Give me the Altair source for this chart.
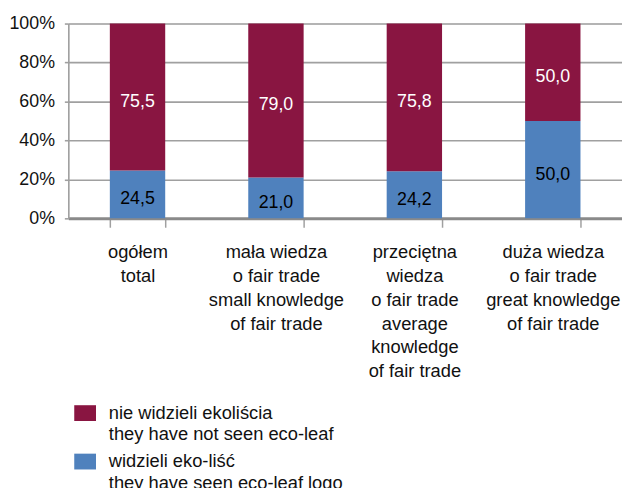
import altair as alt
import pandas as pd

categories = [
    "ogółem|total",
    "mała wiedza|o fair trade|small knowledge|of fair trade",
    "przeciętna|wiedza|o fair trade|average|knowledge|of fair trade",
    "duża wiedza|o fair trade|great knowledge|of fair trade",
]
series = [
    "nie widzieli ekoliścia|they have not seen eco-leaf",
    "widzieli eko-liść|they have seen eco-leaf logo",
]
not_seen = [75.5, 79.0, 75.8, 50.0]
seen = [24.5, 21.0, 24.2, 50.0]
y_ticks = [0, 20, 40, 60, 80, 100]
colors = ["#891541", "#4f81bd"]

rows = []
for i, c in enumerate(categories):
    rows.append({"cat": c, "series": series[1], "value": seen[i], "ord": 0})
    rows.append({"cat": c, "series": series[0], "value": not_seen[i], "ord": 1})
df = pd.DataFrame(rows)

FONT = "Liberation Sans"
GRID = "#a0a0a0"
INK = "#111111"

base = (
    alt.Chart(df)
    .transform_stack(stack="value", as_=["v0", "v1"], groupby=["cat"],
                     sort=[alt.SortField("ord", order="ascending")])
    .transform_calculate(
        mid="(datum.v0 + datum.v1) / 2",
        lbl="replace(format(datum.value, '.1f'), '.', ',')",
    )
)

xaxis = alt.Axis(
    title=None,
    labelExpr="split(datum.label, '|')",
    labelAngle=0,
    labelFont=FONT,
    labelFontSize=18.5,
    labelColor=INK,
    labelLineHeight=24,
    labelPadding=16,
    labelBaseline="top",
    tickBand="extent",
    tickSize=9,
    tickColor=GRID,
    tickWidth=1.5,
    domainColor="#8a8a8a",
    domainWidth=3,
    labelLimit=300,
    grid=False,
)
yaxis = alt.Axis(
    title=None,
    values=y_ticks,
    labelExpr="datum.value + '%'",
    labelFont=FONT,
    labelFontSize=18,
    labelColor=INK,
    labelOverlap=False,
    labelPadding=10,
    tickSize=4,
    tickColor=GRID,
    tickWidth=1.6,
    grid=True,
    gridColor=GRID,
    gridWidth=1.6,
    domainColor=GRID,
    domainWidth=1.6,
)
yscale = alt.Scale(domain=[0, 100])

bars = base.mark_bar().encode(
    x=alt.X("cat:N", sort=categories,
            scale=alt.Scale(paddingInner=0.6, paddingOuter=0.3), axis=xaxis),
    y=alt.Y("v0:Q", scale=yscale, axis=yaxis),
    y2="v1:Q",
    color=alt.Color(
        "series:N",
        scale=alt.Scale(domain=series, range=colors),
        legend=alt.Legend(
            title=None,
            orient="none",
            legendX=6,
            legendY=383,
            direction="vertical",
            labelExpr="split(datum.label, '|')",
            labelFont=FONT,
            labelFontSize=18.5,
            labelColor=INK,
            labelLimit=500,
            labelOffset=13,
            labelBaseline="middle",
            symbolType="M-1,-0.727H1V0.727H-1Z",
            symbolSize=484,
            symbolStrokeWidth=0,
            symbolOpacity=1,
            rowPadding=7,
        ),
    ),
    order=alt.Order("ord:Q"),
)

text = base.mark_text(font=FONT, fontSize=18, dy=5).encode(
    x=alt.X("cat:N", sort=categories, axis=xaxis),
    y=alt.Y("mid:Q", scale=yscale, axis=yaxis),
    text="lbl:N",
    color=alt.condition(alt.datum.ord == 0, alt.value("#000000"), alt.value("#ffffff")),
)

chart = (
    alt.layer(bars, text)
    .properties(
        width=560,
        height=197,
        autosize="none",
        padding={"left": 61, "top": 13, "right": 0, "bottom": 270},
    )
    .configure_view(stroke=None)
    .configure(style={"guide-label": {"lineHeight": 21.5}})
)

chart.save("out.html", embed_options={"renderer": "svg", "actions": False})
